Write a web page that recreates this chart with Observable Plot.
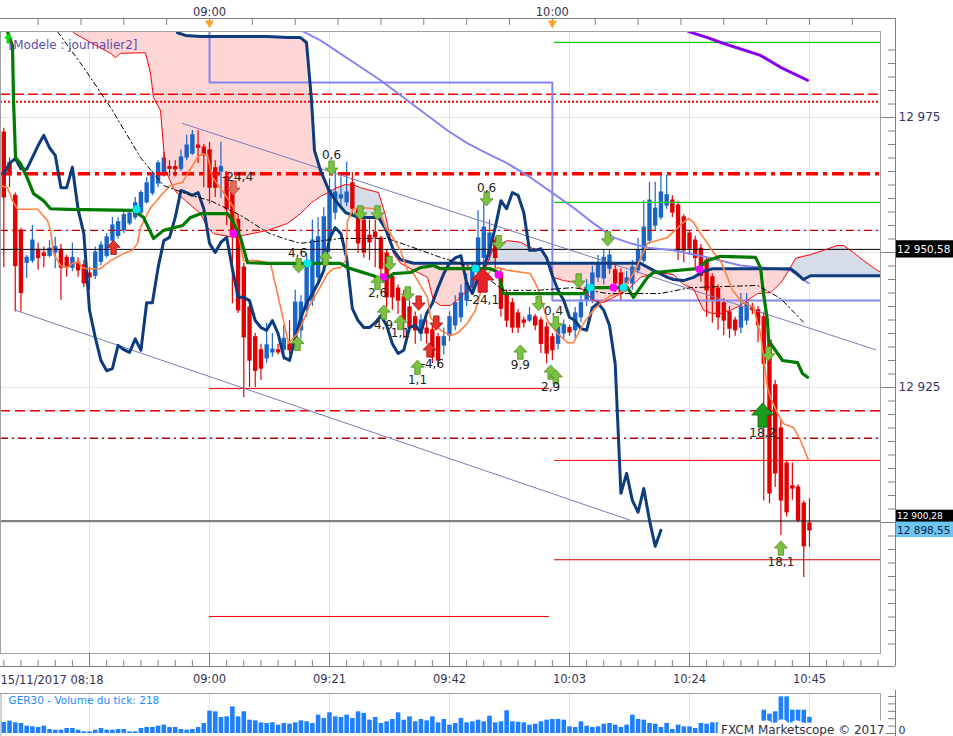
<!DOCTYPE html>
<html><head><meta charset="utf-8">
<script src="https://cdn.jsdelivr.net/npm/d3@7"></script>
<script src="https://cdn.jsdelivr.net/npm/@observablehq/plot@0.6"></script>
<style>
body{margin:0;background:#fff;}
#wrap{position:relative;width:953px;height:736px;overflow:hidden;background:#fff;}
#wrap svg{position:absolute;left:0;}
</style></head><body><div id="wrap"></div>
<script>
// ---------- DATA (minutes from 09:00, prices) ----------
const START = -36;
const OPEN = [12972.2,12966.5,12960.5,12954.0,12948.1,12948.5,12950.5,12949.8,12949.4,12950.0,
12950.5,12949.0,12947.2,12948.1,12947.6,12946.1,12945.7,12948.3,12949.4,12952.2,
12953.1,12954.1,12955.4,12956.5,12957.4,12959.3,12961.0,12962.8,12964.3,12965.8,
12965.8,12965.5,12967.6,12968.3,12969.8,12969.4,12968.9,12965.6,12965.0,12964.0,
12962.0,12956.0,12947.2,12939.8,12934.3,12931.9,12930.4,12931.5,12931.9,12932.0,
12933.0,12933.3,12935.6,12939.3,12941.1,12945.4,12948.0,12952.2,12957.4,12960.0,
12959.3,12962.8,12957.8,12955.9,12953.1,12953.7,12952.6,12949.8,12945.4,12943.3,
12941.7,12939.8,12938.0,12935.0,12935.9,12935.6,12934.3,12932.8,12934.6,12936.5,
12938.0,12941.1,12943.5,12946.7,12949.0,12949.8,12952.2,12946.1,12942.4,12940.6,
12938.7,12937.4,12937.4,12938.0,12937.4,12936.1,12934.3,12933.1,12935.0,12936.0,
12935.6,12938.0,12941.1,12941.1,12945.4,12945.2,12947.0,12946.7,12946.1,12944.3,
12944.3,12946.7,12948.5,12952.2,12955.0,12956.5,12958.7,12959.6,12958.7,12956.5,
12953.5,12952.2,12950.7,12948.5,12945.4,12943.3,12940.6,12938.9,12937.4,12936.1,
12937.4,12939.8,12939.3,12938.0,12933.7,12925.4,12917.4,12910.9,12906.7,12906.5,12903.5,12899.8];
const HIGH = [12973.0,12967.5,12961.0,12954.5,12949.5,12955.0,12951.7,12951.0,12952.2,12952.8,
12951.5,12949.5,12951.7,12949.0,12948.5,12947.2,12951.0,12952.0,12953.5,12956.5,
12956.5,12957.5,12957.8,12960.2,12961.5,12963.9,12965.0,12967.0,12968.5,12967.0,
12967.0,12969.0,12971.7,12972.6,12972.6,12970.0,12970.4,12967.0,12970.4,12965.0,
12963.0,12957.0,12948.0,12941.0,12935.0,12933.0,12936.9,12935.0,12933.0,12936.5,
12937.4,12943.0,12942.0,12949.8,12956.0,12956.5,12958.3,12963.7,12965.2,12964.0,
12966.7,12964.8,12958.5,12957.0,12956.0,12956.0,12953.0,12950.5,12946.0,12944.0,
12943.0,12941.0,12939.0,12938.5,12937.5,12936.5,12935.0,12936.0,12939.0,12942.0,
12944.0,12946.0,12948.0,12957.8,12959.6,12956.0,12952.8,12947.0,12943.0,12941.5,
12939.5,12938.0,12939.8,12938.5,12938.0,12937.0,12935.0,12937.0,12937.5,12936.5,
12939.8,12942.0,12945.0,12947.5,12949.5,12950.5,12950.5,12948.0,12947.0,12946.5,
12948.5,12952.6,12959.6,12963.0,12963.0,12964.3,12964.3,12960.5,12959.5,12957.0,
12954.0,12953.0,12951.5,12949.0,12946.0,12944.0,12941.5,12940.0,12938.0,12942.4,
12942.4,12940.6,12940.0,12939.0,12934.5,12926.3,12919.0,12911.5,12911.0,12907.0,12904.0,12904.4];
const LOW = [12947.2,12962.0,12939.0,12939.0,12945.2,12948.0,12946.7,12947.2,12949.0,12947.0,
12941.1,12945.4,12946.5,12945.4,12943.5,12943.0,12945.0,12947.5,12949.0,12951.5,
12952.5,12953.5,12955.0,12956.0,12957.0,12959.0,12960.5,12962.0,12964.0,12964.0,
12964.0,12965.0,12967.0,12968.0,12966.5,12962.0,12959.0,12960.2,12960.0,12955.0,
12940.5,12938.7,12923.1,12925.0,12925.0,12926.3,12929.5,12930.6,12931.0,12930.0,
12931.0,12931.9,12934.0,12938.0,12940.0,12944.0,12947.0,12950.0,12956.0,12958.0,
12958.5,12957.0,12949.8,12949.0,12948.5,12947.2,12944.3,12939.8,12939.3,12938.5,
12934.0,12935.0,12933.0,12933.5,12933.0,12929.4,12928.7,12931.0,12933.5,12935.5,
12937.0,12940.0,12942.5,12945.5,12948.0,12948.5,12947.0,12938.0,12936.1,12935.0,
12935.0,12936.0,12937.0,12935.5,12931.3,12929.4,12930.0,12932.0,12934.0,12934.5,
12934.0,12937.0,12940.0,12940.5,12944.5,12944.0,12946.0,12942.6,12941.0,12943.0,
12943.0,12946.0,12948.0,12951.5,12954.0,12956.0,12958.0,12956.5,12948.5,12948.1,
12949.5,12947.2,12944.5,12938.0,12936.9,12935.6,12934.6,12934.1,12934.5,12935.0,
12936.5,12938.5,12933.3,12904.0,12903.5,12906.5,12897.6,12901.0,12904.1,12900.0,12889.8,12895.4];
const CLOSE = [12960.2,12964.5,12947.5,12942.5,12949.0,12952.2,12949.0,12949.4,12950.7,12951.0,
12947.2,12947.2,12949.0,12946.7,12944.3,12945.4,12950.0,12951.3,12952.8,12955.0,
12955.6,12956.9,12957.2,12959.1,12961.0,12962.8,12964.6,12966.5,12967.4,12965.5,
12965.4,12967.6,12969.8,12971.7,12969.4,12968.0,12962.0,12962.0,12965.8,12958.0,
12953.5,12939.3,12934.3,12930.0,12928.1,12928.5,12932.8,12932.0,12931.5,12934.0,
12931.9,12940.7,12940.7,12947.2,12952.2,12952.8,12956.5,12961.5,12961.1,12960.6,
12961.1,12958.1,12951.7,12950.0,12951.9,12952.8,12947.0,12941.7,12941.7,12941.1,
12937.4,12936.1,12935.6,12937.4,12935.0,12930.6,12930.0,12934.3,12938.0,12940.6,
12942.4,12944.3,12946.7,12952.6,12954.6,12953.5,12949.0,12939.6,12937.4,12936.1,
12936.1,12937.0,12938.3,12936.5,12933.1,12931.3,12931.9,12936.1,12936.5,12935.2,
12938.7,12940.6,12943.5,12946.1,12948.0,12949.0,12949.4,12944.3,12942.4,12945.2,
12947.2,12950.4,12954.6,12959.6,12958.1,12961.1,12960.6,12957.4,12950.4,12950.4,
12950.7,12949.0,12945.7,12943.0,12941.1,12938.0,12937.4,12935.9,12935.6,12939.8,
12940.6,12939.3,12936.5,12929.4,12905.4,12909.1,12904.1,12901.9,12906.3,12900.4,12895.6,12898.55];
const VOLUME = [150,
167,144,135,99,90,81,99,54,45,45, 68,68,45,23,23,45,68,45,45,54,
54,23,23,68,81,81,99,113,81,81, 54,45,54,81,135,302,293,216,225,360,
225,293,180,171,144,135,144,113,135,126, 144,171,158,135,248,203,279,225,216,248,
203,293,270,180,216,135,158,189,279,180, 225,158,189,171,225,144,189,113,135,203,
144,158,180,158,234,144,158,306,158,153, 144,113,126,158,180,189,189,180,90,81,
158,99,81,90,126,135,113,81,113,248, 189,180,135,126,81,135,54,113,90,90,
68,135,126,144,144,135, 120,110,130,100,140,150, 315,261,293,495,495,315,315,315,218];

// Ichimoku cloud: shared time grid, Senkou A (thin red) and Senkou B (thick dark blue)
const CLOUD_T = [-26.08,-23.8,-20.83,-17.33,-16.45,-15.58,-11.2,-10.33,-9.8,-8.58,-7.7,-6.3,-5.6,-4.2,-1.58,-0.35,0.7,4.2,10.15,13.65,15.92,16.97,17.85,18.37,19.42,20.82,22.05,23.8,25.55,26.42,29.57,30.8,32.2,33.42,35.7,38.15,39.2,40.42,42.17,43.92,46.2,47.95,49.7,52.15,54.42,56.17,57.92,59.67,60.2,61.95,63.7,65.45,67.2,68.95,70.7,73.15,75.42,77.7,80.15,81.2,82.95,84.7,86.45,88.03,89.43,91.18,92.93,95.9,98.18,99.93,101.68,102.55,103.95,105.18,107.45,109.9,110.95,112.7,114.45,116.2,118.3];
const SENKOU_A = [12994.8,12990.7,12988.9,12986.9,12986.1,12986.9,12987.0,12983.2,12978.7,12976.3,12965.2,12961.9,12960.9,12959.6,12957.2,12954.6,12953.5,12952.8,12954.1,12955.4,12957.2,12958.3,12959.3,12959.6,12960.4,12961.1,12961.9,12962.6,12962.4,12962.0,12961.1,12956.9,12949.8,12948.0,12946.7,12945.4,12941.1,12940.2,12940.2,12941.7,12944.3,12946.1,12950.9,12952.2,12951.9,12950.9,12950.4,12948.0,12945.4,12944.8,12944.5,12943.0,12941.1,12940.7,12941.7,12943.0,12945.4,12946.1,12946.1,12945.9,12944.1,12943.3,12939.3,12938.7,12938.7,12939.3,12940.2,12942.4,12942.6,12944.3,12947.2,12948.9,12949.3,12949.6,12950.4,12951.3,12951.3,12950.0,12948.5,12947.2,12945.7];
const SENKOU_B = [13000,13000,13000,13000,13000,13000,13000,13000,13000,13000,13000,12993.0,12990.7,12990.2,12990.0,12990.0,12990.0,12990.0,12990.0,12989.8,12989.8,12988.9,12978.2,12968.9,12965.2,12961.7,12959.6,12957.4,12956.7,12956.5,12956.5,12954.4,12950.4,12948.7,12948.0,12948.0,12948.0,12948.0,12948.0,12948.0,12948.0,12948.0,12948.0,12948.0,12948.0,12948.0,12948.0,12948.0,12948.0,12948.0,12948.0,12948.0,12948.0,12948.0,12948.0,12948.0,12948.0,12946.7,12945.4,12945.0,12944.8,12945.4,12946.5,12947.0,12947.0,12947.0,12947.0,12947.0,12947.0,12947.0,12947.0,12946.3,12945.0,12945.7,12945.7,12945.7,12945.7,12945.7,12945.7,12945.7,12945.7];

const KIJUN = [[-35.35,12990.9],[-34.48,12988.3],[-34.3,12978.2],[-33.95,12967.6],[-33.08,12966.5],[-31.85,12963.7],[-30.8,12960.9],[-29.05,12959.6],[-27.83,12958.1],[-24.85,12958.0],[-13.3,12957.8],[-11.55,12956.5],[-9.8,12952.6],[-8.05,12954.1],[-4.73,12955.0],[-3.33,12956.5],[-1.58,12957.2],[3.15,12957.2],[4.02,12955.9],[5.42,12952.8],[6.65,12948.1],[10.15,12948.0],[22.92,12948.0],[24.15,12947.2],[28.7,12945.7],[30.45,12944.8],[32.2,12946.1],[35.17,12946.3],[36.92,12947.2],[39.2,12947.6],[40.42,12947.0],[49.17,12947.0],[50.57,12946.3],[51.45,12942.4],[65.45,12942.4],[66.15,12943.5],[73.15,12943.5],[74.2,12941.7],[76.65,12945.4],[77.7,12946.3],[85.4,12947.0],[87.15,12948.5],[89.43,12949.3],[95.55,12949.1],[96.43,12947.2],[96.95,12942.4],[97.65,12937.4],[97.83,12933.7],[98.7,12932.4],[100.28,12930.0],[102.9,12929.6],[103.78,12927.6],[104.65,12926.9]];
const TENKAN = [[-36.58,12962.4],[-35.35,12962.0],[-34.48,12959.6],[-33.6,12958.0],[-30.1,12958.0],[-28.35,12955.9],[-27.83,12954.1],[-27.3,12949.8],[-26.08,12947.6],[-24.85,12947.2],[-23.98,12948.0],[-22.93,12948.2],[-22.23,12947.2],[-21.35,12947.0],[-19.08,12947.0],[-17.33,12948.5],[-15.05,12949.8],[-13.48,12950.4],[-12.6,12951.7],[-12.08,12954.6],[-10.33,12958.3],[-8.05,12961.1],[-6.83,12962.4],[-4.73,12963.0],[-3.85,12964.6],[-2.1,12967.6],[-1.23,12968.3],[-0.35,12968.0],[0.52,12963.9],[3.67,12959.3],[4.2,12958.3],[5.95,12948.5],[8.4,12948.5],[10.67,12948.0],[11.9,12942.4],[12.95,12937.4],[13.82,12933.2],[15.4,12935.0],[16.45,12937.4],[17.67,12940.6],[19.07,12943.0],[20.65,12946.1],[21.7,12947.0],[22.92,12947.2],[23.8,12948.5],[24.15,12955.9],[25.2,12958.1],[26.95,12958.3],[28.7,12958.1],[29.93,12957.2],[30.8,12954.6],[31.67,12953.5],[33.42,12950.4],[34.65,12946.7],[35.7,12946.1],[38.15,12941.7],[38.67,12938.0],[40.42,12935.6],[42.17,12934.6],[43.57,12935.2],[45.15,12936.9],[46.55,12939.3],[47.77,12943.9],[49.17,12946.7],[50.57,12947.2],[52.15,12946.7],[56.17,12946.1],[57.4,12943.5],[58.45,12939.8],[59.15,12937.4],[60.9,12935.0],[62.65,12933.3],[63.7,12933.3],[65.45,12936.9],[67.2,12939.3],[68.95,12941.1],[70.17,12942.0],[71.92,12942.6],[74.2,12946.1],[76.65,12951.7],[80.15,12952.8],[82.95,12955.6],[83.83,12956.3],[84.7,12955.6],[85.93,12953.5],[87.15,12951.7],[88.2,12950.0],[89.43,12948.5],[90.65,12945.4],[91.53,12943.0],[92.93,12941.1],[95.2,12939.8],[96.43,12935.0],[96.95,12930.6],[97.65,12925.0],[98.18,12923.1],[99.4,12920.2],[100.45,12918.3],[102.2,12917.6],[103.43,12915.2],[104.83,12911.5]];
const MA_CURVE = [[16.45,12990.9],[19.42,12989.3],[29.92,12981.9],[41.65,12972.6],[45.15,12970.2],[48.65,12968.3],[52.15,12966.5],[56.17,12963.9],[60.2,12960.9],[63.7,12958.3],[67.2,12955.4],[70.7,12952.8],[73.67,12951.7],[76.65,12950.9],[81.2,12950.4],[87.15,12949.1],[92.93,12947.6],[101.68,12946.7],[104.83,12944.3]];
const HOURLY_STEP = [[0,13000],[0,12981.5],[60,12981.5],[60,12941.1],[117.43,12941.1]];
const PURPLE_MA = [[83.83,12990.9],[87.15,12989.8],[89.43,12988.9],[96.43,12986.5],[99.93,12984.3],[104.65,12981.9]];
const TREND_LOW = [[-33.95,12939.3],[73.68,12900.4]];
const TREND_HIGH = [[-4.73,12973.9],[116.55,12932.0]];
const SAR_DASH = [[-26.6,12990.9],[-22.05,12984.3],[-17.33,12976.9],[-12.08,12967.6],[-8.05,12962.4],[-3.33,12960.6],[0.17,12959.6],[5.42,12956.9],[10.15,12953.7],[12.95,12952.6],[15.92,12951.7],[22.92,12952.6],[31.15,12952.6],[34.65,12951.3],[40.42,12949.1],[46.2,12947.2],[51.45,12943.0],[57.4,12943.0],[63.7,12943.5],[69.65,12942.4],[78.93,12942.4],[84.18,12943.5],[95.9,12943.9],[99.93,12941.5],[103.95,12937.1]];

const FULL_LEVELS = [12979.3,12977.9,12964.6,12954.1,12920.7,12915.6];
const BLACK_LEVELS = [12950.58,12900.28];
const HOUR1_LEVELS = [12924.8,12882.6];
const HOUR2_RED = [12911.5,12893.1];
const HOUR2_GREEN = [12988.9,12959.3];
const LAST_PRICE = 12898.55;

const CYAN_DOTS = [[-12.78,12958.0],[17.15,12948.0],[46.55,12947.0],[66.68,12943.5],[72.45,12943.5]];
const MAGENTA_DOTS = [[4.2,12953.5],[30.45,12945.4],[50.58,12945.9],[70.7,12943.5],[85.75,12946.9]];
const GREEN_DOWN = [[21.35,12965.7],[15.6,12947.6],[26.4,12957.4],[29.4,12957.4],[31.5,12948.0],[34.7,12942.4],[48.5,12960.0],[50.6,12951.9],[57.6,12940.6],[60.6,12936.9],[64.6,12944.8],[69.7,12952.6],[97.8,12931.3]];
const GREEN_UP = [[20.3,12948.9],[15.4,12933.1],[29.4,12944.4],[30.5,12938.9],[33.4,12937.0],[36.4,12928.7],[54.4,12931.5],[59.7,12927.8],[60.6,12926.9],[100.0,12895.2]];
const BIG_GREEN_UP = [[96.8,12919.8]];
const RED_DOWN = [[36.6,12940.7],[39.7,12937.0]];
const SALMON_DOWN = [[4.2,12962.0]];
const RED_UP = [[38.5,12931.9],[-16.8,12950.9]];
const BIG_RED_UP = [[47.8,12944.8]];
const SIGNAL_LABELS = [[21.35,12968.0,"0,6"],[15.4,12949.8,"4,6"],[29.4,12942.4,"2,6"],[30.45,12936.5,"4,9"],[33.4,12935.0,"1,1"],[39.0,12929.4,"-4,6"],[36.4,12926.3,"1,1"],[48.5,12962.0,"0,6"],[47.95,12941.1,"-24,1"],[54.4,12929.1,"9,9"],[60.2,12939.1,"0,4"],[59.7,12925.0,"2,9"],[96.8,12916.5,"18,2"],[100.0,12892.6,"18,1"],[4.9,12963.9,"-24,4"]];

const BOTTOM_TICKS = [-21,0,21,42,63,84,105];
const HOUR_MARKS = [0,60];
const PRICE_TICKS = [12900,12925,12950,12975];
const VOLUME_TICKS = [100,200,300,400,500];

// ---------- layout ----------
const X0 = -36.58, X1 = 117.43;          // visible time range
const Y0 = 12875.74, Y1 = 12990.93;      // visible price range
const PR = 880, PT = 31, PB = 653;       // frame edges (px)
const tAt = px => X0 + (X1 - X0) * px / PR;
const pAt = py => Y1 - (Y1 - Y0) * (py - PT) / (PB - PT);
const VMAX = 540;
const vAt = py => VMAX * (733 - py) / 40;

const RED = "#e00000", BLUE = "#1a66c8", NAVY = "#0d3c7e";
const FONT = "'DejaVu Sans', Verdana, sans-serif";
const fmtTime = t => { const m = 540 + t; return String(Math.floor(m/60)).padStart(2,"0") + ":" + String(m%60).padStart(2,"0"); };
const fmtPrice = v => { const [i,f] = v.toFixed(2).split("."); return i.slice(0,2) + " " + i.slice(2) + "," + f; };

const T = d3.range(START, START + OPEN.length);
const candles = T.map((t,i) => ({t, o: OPEN[i], h: HIGH[i], l: LOW[i], c: CLOSE[i]}));
const candleColor = d => d.c >= d.o ? BLUE : RED;
const chikou = candles.slice(26).map((d,i) => ({t: candles[i].t, p: d.c}));
const cloud = CLOUD_T.map((t,i) => ({t, a: SENKOU_A[i], b: SENKOU_B[i]}));
const pts = arr => arr.map(([t,p]) => ({t,p}));

function arrow(dir) {
  return {draw(ctx, size) {
    const r = Math.sqrt(size / Math.PI), s = dir;
    ctx.moveTo(0, -1.15*r*s); ctx.lineTo(r, -0.05*r*s); ctx.lineTo(0.42*r, -0.05*r*s);
    ctx.lineTo(0.42*r, 1.05*r*s); ctx.lineTo(-0.42*r, 1.05*r*s); ctx.lineTo(-0.42*r, -0.05*r*s);
    ctx.lineTo(-r, -0.05*r*s); ctx.closePath();
  }};
}
const UP = arrow(1), DOWN = arrow(-1);
const TRI_DOWN = {draw(ctx, size){ const r = Math.sqrt(size/Math.PI); ctx.moveTo(-r,-0.9*r); ctx.lineTo(r,-0.9*r); ctx.lineTo(0,0.9*r); ctx.closePath(); }};

const L = (data, o) => Plot.line(pts(data), {x: "t", y: "p", clip: true, ...o});
const sig = (data, sym, r, fill, stroke) => Plot.dot(pts(data), {x: "t", y: "p", symbol: sym, r, fill, stroke, strokeWidth: 0.8, clip: true});

const main = Plot.plot({
  width: 953, height: 690,
  marginLeft: 0, marginRight: 953 - PR, marginTop: PT, marginBottom: 690 - PB,
  x: {domain: [X0, X1], label: null},
  y: {domain: [Y0, Y1], label: null},
  style: {fontFamily: FONT, fontSize: "11px", background: "white", color: "#333355"},
  marks: [
    Plot.ruleX(BOTTOM_TICKS, {stroke: "#e3e3e3"}),
    Plot.ruleY(PRICE_TICKS, {stroke: "#e3e3e3"}),
    // cloud
    Plot.areaY(cloud, {x: "t", y1: d => Math.min(d.a, d.b), y2: "b", fill: "#ffd6d6", clip: true}),
    Plot.areaY(cloud, {x: "t", y1: d => Math.min(d.a, d.b), y2: "a", fill: "#d7dde8", clip: true}),
    // candles
    Plot.ruleX(candles, {x: "t", y1: "l", y2: "h", stroke: candleColor, strokeWidth: 1.2, clip: true}),
    Plot.ruleX(candles, {x: "t", y1: d => Math.max(d.o, d.c), y2: d => Math.min(d.o, d.c), stroke: candleColor, strokeWidth: 4.4, insetTop: -0.6, insetBottom: -0.6, clip: true}),
    // levels
    Plot.ruleY([FULL_LEVELS[0]], {stroke: "#ff0000", strokeWidth: 1.6, strokeDasharray: "10,4"}),
    Plot.ruleY([FULL_LEVELS[1]], {stroke: "#ff0000", strokeWidth: 2, strokeDasharray: "2,2"}),
    Plot.ruleY([FULL_LEVELS[2]], {stroke: "#ff0000", strokeWidth: 3.5, strokeDasharray: "12,5,4,5"}),
    Plot.ruleY([FULL_LEVELS[3]], {stroke: "#c80000", strokeWidth: 1.4, strokeDasharray: "8,4,2,4"}),
    Plot.ruleY([FULL_LEVELS[4]], {stroke: "#e80000", strokeWidth: 1.4, strokeDasharray: "10,5"}),
    Plot.ruleY([FULL_LEVELS[5]], {stroke: "#b00000", strokeWidth: 1.4, strokeDasharray: "8,4,2,4"}),
    Plot.ruleY(BLACK_LEVELS, {stroke: "#000", strokeWidth: 1}),
    Plot.ruleY(HOUR1_LEVELS, {x1: 0, x2: 59.5, stroke: "#ff0000", strokeWidth: 1}),
    Plot.ruleY(HOUR2_RED, {x1: 60.4, x2: X1, stroke: (d,i) => i ? "#c00000" : "#ff0000", strokeWidth: 1}),
    Plot.ruleY(HOUR2_GREEN, {x1: 60.4, x2: X1, stroke: "#00d000", strokeWidth: 1.2}),
    // trend channel
    L(TREND_LOW, {stroke: "#7b7bb8", strokeWidth: 1}),
    L(TREND_HIGH, {stroke: "#7b7bb8", strokeWidth: 1}),
    // lavender lines and purple average
    L(HOURLY_STEP, {stroke: "#8585f0", strokeWidth: 2}),
    L(MA_CURVE, {stroke: "#8585f0", strokeWidth: 2}),
    L(PURPLE_MA, {stroke: "#8800ee", strokeWidth: 3}),
    // ichimoku
    Plot.line(cloud, {x: "t", y: "a", stroke: "#ff0000", strokeWidth: 1, clip: true}),
    Plot.line(cloud, {x: "t", y: "b", stroke: NAVY, strokeWidth: 3, clip: true}),
    Plot.line(chikou, {x: "t", y: "p", stroke: NAVY, strokeWidth: 3, clip: true}),
    L(TENKAN, {stroke: "#ff8040", strokeWidth: 1.6}),
    L(KIJUN, {stroke: "#007a00", strokeWidth: 3.2}),
    L(SAR_DASH, {stroke: "#000", strokeWidth: 1, strokeDasharray: "5,3,1.5,3"}),
    // markers
    Plot.dot(pts(CYAN_DOTS), {x: "t", y: "p", r: 4, fill: "#00e8f0"}),
    Plot.dot(pts(MAGENTA_DOTS), {x: "t", y: "p", r: 4, fill: "#ff00ff"}),
    Plot.dot([{t: -35.2, p: 12989.6}], {x: "t", y: "p", symbol: UP, r: 4.5, fill: "#00dd00"}),
    sig(GREEN_DOWN, DOWN, 6.5, "#7cc142", "#4d8f1e"),
    sig(GREEN_UP, UP, 6.5, "#7cc142", "#4d8f1e"),
    sig(BIG_GREEN_UP, UP, 11, "#1c9c1c", "#0a640a"),
    sig(RED_DOWN, DOWN, 6.5, "#e8322c", "#a01010"),
    sig(SALMON_DOWN, DOWN, 6.5, "#e07058", "#b04030"),
    sig(RED_UP, UP, 6.5, "#e8322c", "#a01010"),
    sig(BIG_RED_UP, UP, 11, "#e8222a", "#a00a0a"),
    Plot.text(SIGNAL_LABELS, {x: d => d[0], y: d => d[1], text: d => d[2], fontSize: 12, fill: "#222"}),
    Plot.text(["[Modele : journalier2]"], {text: d => d, frameAnchor: "top-left", dx: 8, dy: 9, textAnchor: "start", lineAnchor: "top", fontSize: 12, fill: "#5b4ea8"}),
    // chrome
    Plot.frame({stroke: "#a0a0a0"}),
    Plot.ruleY([pAt(18)], {x1: tAt(0), x2: tAt(895), stroke: "#808080"}),
    Plot.ruleX(d3.range(-30, X1, 7.5), {y1: pAt(18), y2: pAt(25), stroke: "#808080"}),
    Plot.ruleX([tAt(895)], {y1: pAt(18), y2: pAt(666), stroke: "#808080"}),
    Plot.ruleY(d3.range(12877.5, 12990, 2.5), {x1: tAt(888), x2: tAt(895), stroke: "#808080"}),
    Plot.ruleY([pAt(666)], {x1: tAt(0), x2: tAt(895), stroke: "#808080"}),
    Plot.ruleX(d3.range(-36, X1, 3), {y1: pAt(660), y2: pAt(666), stroke: "#808080"}),
    Plot.axisY({anchor: "right", label: null, ticks: PRICE_TICKS, tickSize: 15, tickPadding: 3, stroke: "#808080", fill: "#333366", fontSize: 12,
      tickFormat: d => (d === 12975 || d === 12925) ? fmtPrice(d).slice(0, 6) : ""}),
    Plot.axisX({anchor: "bottom", label: null, ticks: BOTTOM_TICKS, tickSize: 13, tickPadding: 8, stroke: "#808080", fill: "#333355", fontSize: 11.5,
      tickFormat: t => t < 0 ? "" : fmtTime(t)}),
    Plot.text(["15/11/2017 08:18"], {text: d => d, x: X0, y: pAt(680), textAnchor: "start", fontSize: 11.5, fill: "#333355"}),
    Plot.axisX({anchor: "top", label: null, ticks: HOUR_MARKS, tickSize: 0, tickPadding: 16, fill: "#333355", fontSize: 11.5, tickFormat: fmtTime}),
    Plot.dot(HOUR_MARKS, {x: d => d, y: pAt(24), symbol: TRI_DOWN, r: 4.5, fill: "#ffa028"}),
    // price boxes
    Plot.rect([BLACK_LEVELS[0]], {x1: tAt(896), x2: tAt(960), y1: d => d - 1.6, y2: d => d + 1.6, fill: "#000"}),
    Plot.rect([BLACK_LEVELS[1]], {x1: tAt(896), x2: tAt(960), y1: d => d - 0.25, y2: d => d + 2.0, fill: "#000"}),
    Plot.text([BLACK_LEVELS[0]], {x: tAt(896.5), y: d => d, text: fmtPrice, textAnchor: "start", fill: "#fff", fontSize: 10.5}),
    Plot.text([BLACK_LEVELS[1]], {x: tAt(896.5), y: d => d + 0.9, text: fmtPrice, textAnchor: "start", fill: "#fff", fontSize: 9}),
    Plot.rect([LAST_PRICE], {x1: tAt(896), x2: tAt(960), y1: d => d - 1.35, y2: d => d + 1.5, fill: "#6cc6f2"}),
    Plot.text([LAST_PRICE], {x: tAt(896.5), y: d => d, text: fmtPrice, textAnchor: "start", fill: "#102040", fontSize: 10.5})
  ]
});

const vol = Plot.plot({
  width: 953, height: 46,
  marginLeft: 0, marginRight: 953 - PR, marginTop: 3, marginBottom: 3,
  x: {domain: [X0, X1], axis: null},
  y: {domain: [0, VMAX], axis: null},
  style: {fontFamily: FONT, fontSize: "11px", background: "white", overflow: "hidden"},
  marks: [
    Plot.ruleX(BOTTOM_TICKS, {y1: vAt(693), y2: vAt(736), stroke: "#e3e3e3"}),
    Plot.ruleX(T.map((t,i) => ({t, v: VOLUME[i]})), {x: "t", y1: 0, y2: "v", stroke: "#1e80ff", strokeWidth: 4.6}),
    Plot.ruleY([vAt(693)], {x1: tAt(0), x2: tAt(PR), stroke: "#a0a0a0"}),
    Plot.ruleX([tAt(0.5), tAt(PR)], {y1: vAt(693), y2: vAt(736), stroke: "#a0a0a0"}),
    Plot.ruleX([tAt(895)], {y1: vAt(690), y2: vAt(736), stroke: "#808080"}),
    Plot.ruleY(VOLUME_TICKS, {x1: tAt(888), x2: tAt(895), stroke: "#808080"}),
    Plot.ruleY([0], {x1: tAt(880), x2: tAt(895), stroke: "#808080"}),
    Plot.text([0], {x: tAt(898), y: vAt(730), text: d => String(d), textAnchor: "start", fontSize: 11, fill: "#333366"}),
    Plot.text(["GER30 - Volume du tick: " + VOLUME[VOLUME.length - 1]], {text: d => d, frameAnchor: "top-left", dx: 8, dy: 3, textAnchor: "start", lineAnchor: "top", fontSize: 10.5, fill: "#1e88ff"}),
    Plot.text(["FXCM Marketscope © 2017"], {text: d => d, frameAnchor: "bottom-right", dx: 4, dy: 0, textAnchor: "end", lineAnchor: "bottom", fontSize: 12, fill: "#303040", stroke: "white", strokeWidth: 9})
  ]
});

const wrap = document.getElementById("wrap");
main.style.top = "0px";
vol.style.top = "690px";
wrap.appendChild(main);
wrap.appendChild(vol);
</script></body></html>
